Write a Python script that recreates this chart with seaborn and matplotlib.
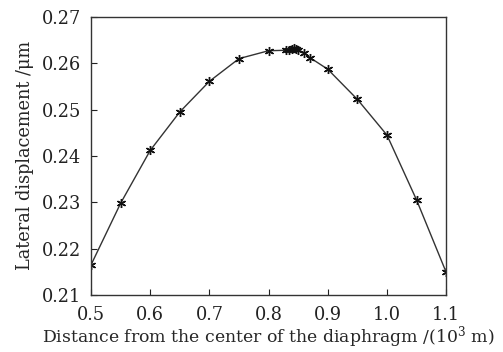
import numpy as np
import pandas as pd
import matplotlib
matplotlib.use("Agg")
import matplotlib.pyplot as plt
import seaborn as sns

# datos
distancia = [0.50, 0.55, 0.60, 0.65, 0.70, 0.75, 0.80, 0.83, 0.835, 0.84, 0.843,
             0.846, 0.85, 0.86, 0.87, 0.90, 0.95, 1.00, 1.05, 1.10]
desplazamiento = [0.2165, 0.2298, 0.2412, 0.2495, 0.2561, 0.2610, 0.2627, 0.2628,
                  0.2629, 0.2631, 0.2632, 0.2631, 0.2628, 0.2623, 0.2612, 0.2587,
                  0.2522, 0.2445, 0.2305, 0.2149]
xticks = [0.5, 0.6, 0.7, 0.8, 0.9, 1.0, 1.1]
xticklabels = ["0.5", "0.6", "0.7", "0.8", "0.9", "1.0", "1.1"]
yticks = [0.21, 0.22, 0.23, 0.24, 0.25, 0.26, 0.27]

df = pd.DataFrame({"d": distancia, "u": desplazamiento})

sns.set_style("white")
plt.rcParams["font.family"] = ["DejaVu Serif"]
plt.rcParams["mathtext.fontset"] = "dejavuserif"

fig = plt.figure(figsize=(5.03, 3.52), dpi=100)
ax = fig.add_axes([0.181, 0.162, 0.706, 0.79])

sns.lineplot(data=df, x="d", y="u", ax=ax, color="#333333", linewidth=1.0,
             marker=(6, 2, 0), markersize=6.5, markeredgecolor="#111111",
             markeredgewidth=1.0, sort=False)

ax.set_xlim(0.5, 1.1)
ax.set_ylim(0.21, 0.27)
ax.set_xticks(xticks)
ax.set_xticklabels(xticklabels)
ax.set_yticks(yticks)
ax.tick_params(direction="in", length=4, width=0.8, labelsize=12.8,
               bottom=True, left=True, top=False, right=False, colors="#222222")
ax.tick_params(axis="x", pad=8)
ax.tick_params(axis="y", pad=7)
for s in ax.spines.values():
    s.set_color("#333333")
    s.set_linewidth(1.0)

ax.set_xlabel("Distance from the center of the diaphragm /(10$^3$ m)", fontsize=12.4, labelpad=0)
ax.set_ylabel("Lateral displacement /μm", fontsize=12.8, labelpad=6)

fig.savefig("out.png", dpi=100)
